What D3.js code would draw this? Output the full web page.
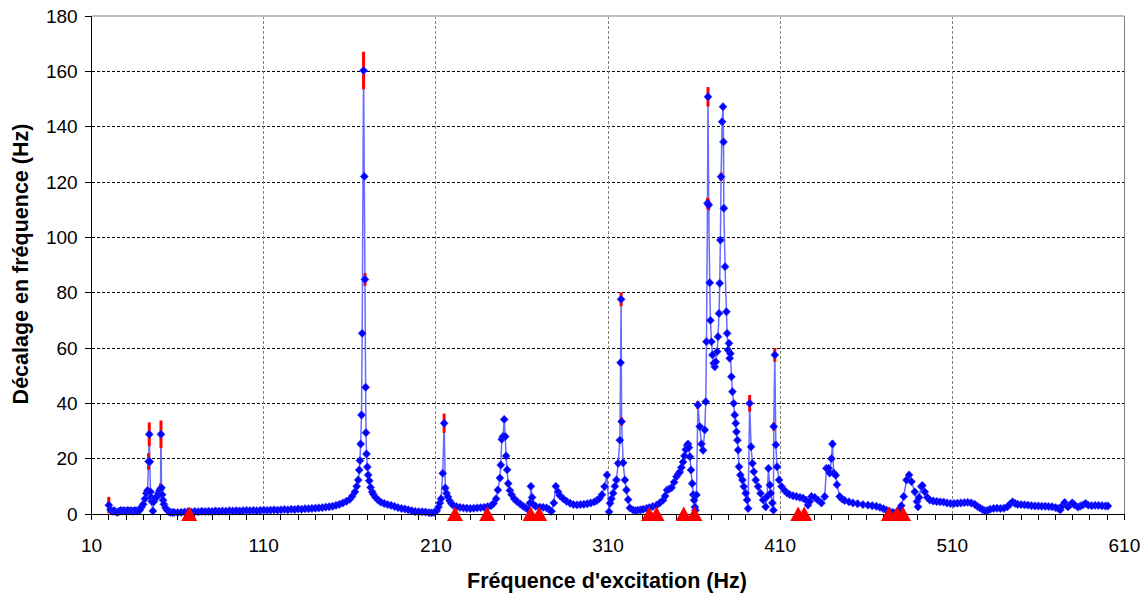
<!DOCTYPE html>
<html><head><meta charset="utf-8">
<script src="https://cdn.jsdelivr.net/npm/d3@7"></script>
<style>body{margin:0;background:#fff;} svg{display:block;font-family:"Liberation Sans",Arial,sans-serif;}</style>
</head><body><svg id="c" width="1148" height="595"></svg>
<script>
// Excitation frequency (Hz)
const freq = [
20,21,22,23,24,25,26,27,28,29,
30,31,32,33,34,35,36,37,38,39,
40,41,41.8,42.5,43.1,43.5,43.8,44.2,44.6,45.0,
45.6,46.2,47,48,48.8,49.5,50.0,50.3,50.6,51.0,
51.5,52,53,54,55,56,57,58,60,62,
64,66,68,70,72,74,76,78,80,82,
84,86,88,90,92,94,96,98,100,102,
104,106,108,110,112,114,116,118,120,122,
124,126,128,130,132,134,136,138,140,142,
144,146,148,150,152,154,156,158,160,161.5,
163,164,164.9,165.5,165.9,166.3,166.8,167.2,168.0,168.4,
168.8,169.2,169.4,169.7,170.2,170.7,171.3,172.1,173.0,173.6,
175,176.5,178,180,182,184,186,188,190,192,
194,196,198,200,202,204,206,207.5,209,210.5,
211.5,212.3,213,214.0,214.8,215.5,216.2,217,218,219,
220,222,224,226,228,230,232,234,236,238,
240,242,243.5,245,246,247.2,247.7,248.3,249.0,249.7,
250.3,250.8,251.4,252,253,254,255.5,257,259,260.7,
262.2,263.6,264.6,265.2,265.9,266.5,268,270.4,272.3,274.3,
275.8,277.2,278.5,279.7,281,282,284,285.9,288,290,
292,294,296,298,300,302,303.5,305,306.5,308,
309.4,310.6,311.2,312,313,314,314.9,315.9,316.9,317.3,
317.6,317.9,318.8,319.8,320.7,321.7,322.7,324.6,326,327.5,
329,330.5,332.4,334,336,338.2,340,342,343.2,344.3,
345.5,346.9,348.4,349.8,350.8,351.7,352.6,353.6,354.4,355.2,
356.0,356.5,357.0,357.6,358.2,358.9,359.5,360.0,360.5,360.8,
361.4,362.2,363.3,364.3,365.2,366.2,366.8,367.2,367.8,368.1,
368.5,369.1,369.5,370.1,370.7,371.4,372.0,372.6,373.4,373.9,
374.5,374.9,375.3,375.7,376.3,376.8,377.1,377.3,378.0,378.8,
379.2,379.7,380.3,380.7,381.1,381.7,382.3,383.0,383.6,384.2,
384.6,385.2,385.6,386.1,386.9,388.1,388.9,390.0,390.8,391.4,
392.3,393.1,393.9,394.7,395.8,397.2,398.6,400.1,401.6,402.4,
403.2,404.0,404.5,405.5,406.1,406.3,406.9,407.5,408.2,409.4,
410.8,412.7,414,415.6,417.5,419.5,421.5,423.3,425,426.2,
427.2,428.2,430.1,432,434,435.9,436.9,438.2,438.8,439.8,
440.4,441.1,442.3,443,444.6,446,447.5,450,452.3,455,
458.1,461,463.5,465.9,468,470,471.7,473.5,475.5,477.5,
479,480.4,481.8,483.4,484.9,486.3,488.2,489.5,490.1,490.7,
492,492.6,494,495.5,497,499,501,503,505,507,
509,511,513,515,517,519,521,523,524.5,526,
527.5,529,530.5,532,534,536,538,540,542,543.5,
545,546.5,548,550,552,554,556,558,560,562,
564,566,568,570,571.5,572.8,574,575.3,576.3,577.2,
578.5,579.7,581,583,584.5,586,587.5,589,591,593,
595,597,599,600.4
];
// Frequency shift (Hz)
const shift = [
3.2,1.5,1.0,1.2,0.8,0.6,1.0,1.3,1.1,1.2,
1.0,1.3,1.1,1.2,1.0,1.3,1.1,1.2,1.4,2.5,
3.5,5.5,7.5,8.5,19.0,28.8,18.9,8.0,6.0,4.5,
1.1,4.5,5.8,6.2,7.5,8.5,9.0,28.8,9.5,7.0,
5.0,3.5,2.2,1.3,0.8,0.6,0.5,0.6,0.5,0.6,
0.7,0.8,0.7,0.9,0.8,1.0,0.9,1.0,0.9,1.1,
1.0,1.1,1.0,1.2,1.1,1.2,1.1,1.2,1.3,1.2,
1.3,1.2,1.3,1.4,1.3,1.4,1.5,1.4,1.5,1.6,
1.5,1.7,1.6,1.8,1.7,1.9,1.9,2.0,2.1,2.2,
2.3,2.5,2.6,2.8,3.1,3.5,4.0,4.6,5.3,6.5,
8.0,10.0,12.3,15.9,19.3,25.3,35.8,65.3,160.3,122,
84.8,45.8,29.4,21.7,17.0,14.1,12.0,9.6,8.0,7.2,
6.0,5.0,4.3,3.8,3.4,3.1,2.7,2.3,2.0,1.8,
1.5,1.2,0.9,0.8,0.8,0.7,0.5,0.4,0.6,1.2,
2.5,4.0,5.5,14.7,32.8,9.4,7.5,6.2,4.8,3.8,
3.2,2.6,2.4,2.2,2.1,2.0,2.1,2.2,2.3,2.4,
2.6,3.0,3.8,5.5,8.7,13.0,17.7,27.0,28.0,34.2,
28.0,21.0,16.0,11.0,8.5,7.0,5.5,4.6,3.6,2.8,
2.2,1.6,4.0,10.0,6.0,3.5,2.8,2.5,2.4,2.2,
1.6,1.0,4.0,10.0,8.0,6.7,5.5,4.6,3.9,3.4,
3.3,3.4,3.5,3.7,4.0,4.4,4.9,5.6,7.0,9.9,
14.1,0.8,3.9,5.5,7.5,10.0,12.3,18.3,26.7,54.7,
77.6,33.4,18.5,12.3,8.7,5.2,2.2,1.4,1.2,1.4,
1.5,1.7,2.0,2.3,2.7,3.2,4.0,5.0,6.5,8.7,
9.0,9.5,11.5,13.5,14.5,15.2,16.8,18.8,21.0,23.3,
24.8,25.3,24.0,20.7,15.9,11.0,7.0,5.0,2.5,1.4,
6.9,39.4,31.6,25.3,23.0,30.4,40.6,62.3,112.3,150.8,
111.7,83.6,70.0,62.3,57.5,54.5,53.2,55.0,58.7,64.1,
72.5,83.4,99.0,121.9,141.8,147.2,134.5,110.5,89.4,73.1,
65.3,59.3,61.7,56.3,58.0,49.6,44.2,40.0,35.8,32.8,
29.7,26.7,23.1,17.1,14.1,12.3,9.9,7.5,5.1,2.0,
40.0,24.3,18.3,15.3,12.3,9.9,7.5,5.1,2.6,6.3,
16.5,10.5,7.5,4.0,1.4,31.6,57.5,25.0,17.1,12.3,
9.9,8.4,7.6,7.0,6.6,6.3,6.0,5.7,5.0,3.2,
4.5,6.3,6.0,5.0,4.0,6.3,16.5,16.5,14.8,20.0,
25.3,14.8,14.0,10.6,6.3,5.4,4.9,4.4,4.0,3.7,
3.4,3.2,3.0,2.8,2.4,1.9,1.4,1.0,0.6,0.3,
1.5,3.0,6.3,12.3,14.1,11.7,8.0,4.5,2.6,6.0,
9.9,10.3,8.0,6.0,5.0,4.7,4.5,4.4,4.3,4.0,
3.8,3.8,3.9,4.0,4.1,4.2,4.0,3.5,2.8,2.2,
1.6,1.2,1.3,1.7,2.0,2.1,2.0,2.1,2.6,3.5,
4.4,3.8,3.5,3.4,3.3,3.2,3.0,2.9,2.9,2.8,
2.8,2.7,2.6,2.3,2.0,1.5,3.0,4.2,3.2,2.6,
3.3,4.0,3.3,2.5,2.9,3.3,3.8,3.2,3.0,3.1,
3.1,3.0,2.9,2.9
];
// Error bars (± Hz) on selected points
const errFreq = [20,43.1,43.5,50.0,50.3,168.0,168.8,214.8,317.6,317.9,362.2,367.8,368.1,368.5,375.7,392.3,406.3,406.9,440.4];
const errSize = [3,3,4.3,2,5,6.8,2.3,3.5,2.5,1.5,1.5,2,3.5,2,1.5,3,1.5,2.5,1.2];
// Resonance markers on the axis
const resFreq = [66.7,221.1,239.8,265.0,270.0,333.9,338.2,354.0,360.2,420.5,424.0,473.2,477.9,481.4];

const xTicks = [10,110,210,310,410,510,610];
const yTicks = [0,20,40,60,80,100,120,140,160,180];
const xTitle = "Fréquence d'excitation (Hz)";
const yTitle = "Décalage en fréquence (Hz)";

const svg = d3.select("#c");
const x = d3.scaleLinear().domain([10,610]).range([91.6,1124.4]);
const y = d3.scaleLinear().domain([0,180]).range([514,16]);
const X0 = x(10), X1 = x(610), Y0 = y(0), Y1 = y(180);

// grid
svg.append("g").selectAll("line").data(yTicks.filter(d=>d>0&&d<180)).join("line")
  .attr("x1",X0).attr("x2",X1).attr("y1",d=>y(d)).attr("y2",d=>y(d))
  .attr("stroke","#000").attr("stroke-width",1).attr("stroke-dasharray","3,2").attr("shape-rendering","crispEdges");
svg.append("g").selectAll("line").data(xTicks.filter(d=>d>10&&d<610)).join("line")
  .attr("x1",d=>x(d)).attr("x2",d=>x(d)).attr("y1",Y1).attr("y2",Y0)
  .attr("stroke","#808080").attr("stroke-width",1).attr("stroke-dasharray","3,2").attr("shape-rendering","crispEdges");
// frame
svg.append("line").attr("x1",X0).attr("x2",X1).attr("y1",Y1).attr("y2",Y1).attr("stroke","#c0c0c0").attr("stroke-width",2);
svg.append("line").attr("x1",X1).attr("x2",X1).attr("y1",Y1).attr("y2",Y0).attr("stroke","#808080").attr("stroke-width",1).attr("shape-rendering","crispEdges");

// data
const pts = freq.map((f,i)=>({f, v:shift[i]}));
const line = d3.line().x(d=>x(d.f)).y(d=>y(d.v));
svg.append("path").datum(pts).attr("d",line).attr("fill","none")
  .attr("stroke","#6a6aff").attr("stroke-width",1.5).attr("stroke-linejoin","round");

// error bars
const errs = errFreq.map((f,i)=>{ const k = freq.indexOf(f); return {f, v:shift[k], e:errSize[i]}; });
svg.append("g").selectAll("line").data(errs).join("line")
  .attr("x1",d=>x(d.f)).attr("x2",d=>x(d.f)).attr("y1",d=>y(d.v+d.e)).attr("y2",d=>y(Math.max(0,d.v-d.e)))
  .attr("stroke","#ff0000").attr("stroke-width",3);

// markers
svg.append("g").selectAll("path").data(pts).join("path")
  .attr("transform",d=>`translate(${x(d.f)},${y(d.v)})`)
  .attr("d","M0,-4.2L4,0L0,4.2L-4,0Z").attr("fill","#0000ff")
  .attr("stroke","#3a3aff").attr("stroke-width",0.6);

// axes
const ax = svg.append("g").attr("stroke","#000").attr("shape-rendering","crispEdges");
ax.append("line").attr("x1",X0).attr("x2",X0).attr("y1",Y1).attr("y2",Y0);
ax.append("line").attr("x1",X0).attr("x2",X1).attr("y1",Y0).attr("y2",Y0);
ax.selectAll(".yt").data(yTicks).join("line").attr("class","yt")
  .attr("x1",X0-7).attr("x2",X0).attr("y1",d=>y(d)).attr("y2",d=>y(d));
ax.selectAll(".xt").data(d3.range(10,611,10)).join("line").attr("class","xt")
  .attr("x1",d=>x(d)).attr("x2",d=>x(d)).attr("y1",Y0).attr("y2",Y0+6);

// resonance triangles
svg.append("g").selectAll("path").data(resFreq).join("path")
  .attr("transform",d=>`translate(${x(d)},${Y0})`)
  .attr("d","M0,-7.5L8,7L-8,7Z").attr("fill","#ff0000");

// tick labels
svg.append("g").selectAll("text").data(yTicks).join("text")
  .attr("x",X0-14).attr("y",d=>y(d)).attr("dy","0.35em").attr("text-anchor","end")
  .attr("font-size",19).attr("fill","#000").text(d=>d);
svg.append("g").selectAll("text").data(xTicks).join("text")
  .attr("x",d=>x(d)).attr("y",552).attr("text-anchor","middle")
  .attr("font-size",19).attr("fill","#000").text(d=>d);

// titles
svg.append("text").attr("x",607).attr("y",588).attr("text-anchor","middle")
  .attr("font-size",21.5).attr("font-weight","bold").text(xTitle);
svg.append("text").attr("transform","translate(28,264) rotate(-90)").attr("text-anchor","middle")
  .attr("font-size",21.5).attr("font-weight","bold").text(yTitle);
</script></body></html>
